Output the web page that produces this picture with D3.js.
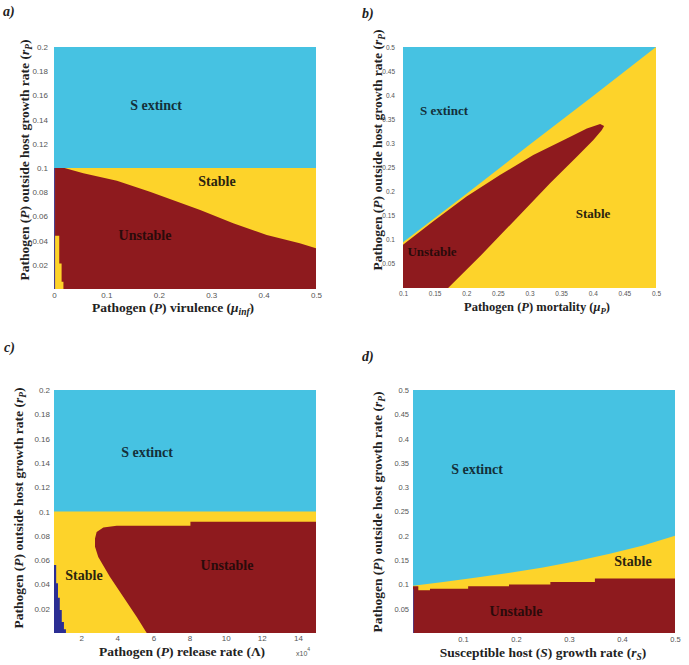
<!DOCTYPE html>
<html><head><meta charset="utf-8">
<script src="https://cdn.jsdelivr.net/npm/d3@7"></script>
<style>body{margin:0;background:#fff}svg{display:block}
.serif{font-family:"Liberation Serif","Times New Roman","DejaVu Serif",serif;font-weight:bold}
.sans{font-family:"Liberation Sans",Arial,sans-serif}
</style>
</head><body><svg id="c" width="689" height="665"></svg>
<script>
// ---------- Panel a: virulence vs outside growth rate ----------
const aXTicks = [0, 0.1, 0.2, 0.3, 0.4, 0.5];
const aYTicks = [0.02, 0.04, 0.06, 0.08, 0.1, 0.12, 0.14, 0.16, 0.18, 0.2];
const aExtinctX = [0, 0.5];
const aExtinctY = [0.1, 0.1];
const aUnstableX = [0.002, 0.02, 0.056, 0.12, 0.183, 0.279, 0.342, 0.406, 0.469, 0.5];
const aUnstableTop = [0.1, 0.1, 0.0956, 0.0895, 0.0804, 0.0653, 0.0543, 0.0446, 0.0378, 0.0336];
const aStripX = [0.002, 0.010, 0.0145, 0.018];
const aStripTop = [0.044, 0.021, 0.006, 0.006];
const aLysisX = [0, 0.002];
const aLysisTop = [0.1, 0.1];

// ---------- Panel b: mortality ----------
const bXTicks = [0.1, 0.15, 0.2, 0.25, 0.3, 0.35, 0.4, 0.45, 0.5];
const bYTicks = [0.05, 0.1, 0.15, 0.2, 0.25, 0.3, 0.35, 0.4, 0.45, 0.5];
const bExtinctX = [0.1, 0.2, 0.3, 0.4, 0.5];
const bExtinctY = [0.095, 0.195, 0.297, 0.398, 0.5];
const bUnstableX = [0.1, 0.1, 0.1475, 0.2005, 0.2533, 0.306, 0.359, 0.3907, 0.4117, 0.418, 0.4144, 0.401, 0.3748, 0.3325, 0.2797, 0.2268, 0.1713];
const bUnstableY = [0, 0.0896, 0.1378, 0.1896, 0.2345, 0.2759, 0.3104, 0.3311, 0.34, 0.336, 0.3276, 0.307, 0.2723, 0.2173, 0.1449, 0.0724, 0];

// ---------- Panel c: release rate (x10^4) ----------
const cXTicks = [2, 4, 6, 8, 10, 12, 14];
const cYTicks = [0.02, 0.04, 0.06, 0.08, 0.1, 0.12, 0.14, 0.16, 0.18, 0.2];
const cExtinctX = [0.5, 15];
const cExtinctY = [0.1, 0.1];
const cUnstableX = [5.63, 5.08, 4.34, 3.6, 2.95, 2.77, 2.77, 2.86, 3.23, 3.97, 8.05, 8.05, 15, 15];
const cUnstableY = [0, 0.0132, 0.0297, 0.0461, 0.0626, 0.0709, 0.0778, 0.0832, 0.0869, 0.0882, 0.0882, 0.0915, 0.0915, 0];
const cLysisX = [0.5, 0.62, 0.72, 0.82, 0.93, 1.05, 1.16];
const cLysisTop = [0.056, 0.041, 0.029, 0.019, 0.009, 0.003, 0.003];

// ---------- Panel d: susceptible host growth rate ----------
const dXTicks = [0.1, 0.2, 0.3, 0.4, 0.5];
const dYTicks = [0.05, 0.1, 0.15, 0.2, 0.25, 0.3, 0.35, 0.4, 0.45, 0.5];
const dExtinctX = [0.006, 0.063, 0.126, 0.189, 0.251, 0.315, 0.377, 0.44, 0.5];
const dExtinctY = [0.097, 0.105, 0.114, 0.124, 0.135, 0.148, 0.163, 0.18, 0.2];
const dUnstableX = [0.006, 0.016, 0.038, 0.11, 0.187, 0.265, 0.349, 0.5];
const dUnstableTop = [0.096, 0.088, 0.091, 0.096, 0.1, 0.105, 0.112, 0.112];
const dLysisX = [0.006, 0.0075];
const dLysisTop = [0.09, 0.09];

const C = {blue:"#46C2E2", yellow:"#FDD32A", red:"#8E1A1E", navy:"#2B2E93", purple:"#4B3F8E"};
const svg = d3.select("#c");
const zip = (xs, ys) => xs.map((x, i) => [x, ys[i]]);
const fmt = d => String(+d.toFixed(3));

function addParts(t, parts, fs) {
  parts.forEach(pt => {
    const s = t.append("tspan").text(pt[0]);
    if (pt[1] === "i") s.attr("font-style", "italic");
    if (pt[1] === "sub") s.attr("font-style", "italic").attr("font-size", fs * 0.7).attr("dy", 3);
    if (pt[1] === "after") s.attr("dy", -3);
  });
}

function panel(o) {
  const g = svg.append("g");
  const x = d3.scaleLinear().domain(o.xd).range([o.L, o.R]);
  const y = d3.scaleLinear().domain(o.yd).range([o.B, o.T]);
  const clipId = "clip" + o.id;
  g.append("clipPath").attr("id", clipId).append("rect")
    .attr("x", o.L).attr("y", o.T).attr("width", o.R - o.L).attr("height", o.B - o.T);
  const p = g.append("g").attr("clip-path", `url(#${clipId})`);
  p.append("rect").attr("x", o.L).attr("y", o.T).attr("width", o.R - o.L).attr("height", o.B - o.T).attr("fill", o.bg);
  o.layers.forEach(l => {
    if (l.type === "below") {
      const ar = d3.area().x(d => x(d[0])).y0(y(o.yd[0])).y1(d => y(d[1])).curve(l.curve || d3.curveLinear);
      p.append("path").datum(l.pts).attr("d", ar).attr("fill", l.fill);
    } else if (l.type === "above") {
      const ar = d3.area().x(d => x(d[0])).y0(y(o.yd[1])).y1(d => y(d[1])).curve(l.curve || d3.curveLinear);
      p.append("path").datum(l.pts).attr("d", ar).attr("fill", l.fill);
    } else {
      const ln = d3.line().x(d => x(d[0])).y(d => y(d[1]));
      p.append("path").datum(l.pts).attr("d", ln(l.pts) + "Z").attr("fill", l.fill);
    }
  });
  const ax = g.append("g").attr("transform", `translate(0,${o.B})`)
    .call(d3.axisBottom(x).tickValues(o.xt).tickFormat(fmt).tickSize(0).tickPadding(o.xpad));
  const ay = g.append("g").attr("transform", `translate(${o.L},0)`)
    .call(d3.axisLeft(y).tickValues(o.yt).tickFormat(fmt).tickSize(0).tickPadding(o.ypad));
  [ax, ay].forEach(a => {
    a.select(".domain").remove();
    a.attr("font-family", null);
    a.selectAll("text").attr("class", "sans").attr("font-size", o.tfs).attr("fill", "#555");
  });
  o.labels.forEach(t => {
    g.append("text").attr("class", "serif").attr("x", t[1]).attr("y", t[2]).attr("text-anchor", "middle")
      .attr("dominant-baseline", "middle")
      .attr("font-size", o.lfs).attr("fill", t[3]).text(t[0]);
  });
  g.append("text").attr("class", "serif").attr("x", o.letter[1]).attr("y", o.letter[2])
    .attr("font-style", "italic").attr("font-size", 14).attr("fill", "#222").text(o.letter[0]);
  const xt = g.append("text").attr("class", "serif").attr("x", o.xtitle.x).attr("y", o.xtitle.y)
    .attr("text-anchor", "middle").attr("font-size", o.xtitle.fs).attr("fill", "#222");
  addParts(xt, o.xtitle.parts, o.xtitle.fs);
  const yt = g.append("text").attr("class", "serif")
    .attr("transform", `translate(${o.ytitle.x},${o.ytitle.y}) rotate(-90)`)
    .attr("text-anchor", "middle").attr("font-size", o.ytitle.fs).attr("fill", "#222");
  addParts(yt, [["Pathogen ("], ["P", "i"], [") outside host growth rate ("], ["r", "i"], ["P", "sub"], [")", "after"]], o.ytitle.fs);
  return {g, x, y};
}

const dark = "#14303a", darkR = "#2a0b0b", darkY = "#2a2410";

panel({id: "a", L: 54, R: 316, T: 47, B: 289, xd: [0, 0.5], yd: [0, 0.2], bg: C.blue,
  xt: aXTicks, yt: aYTicks, xpad: 3, ypad: 6, tfs: 8, lfs: 14,
  layers: [
    {type: "below", pts: zip(aExtinctX, aExtinctY), fill: C.yellow},
    {type: "below", pts: zip(aUnstableX, aUnstableTop), fill: C.red},
    {type: "below", pts: zip(aStripX, aStripTop), fill: C.yellow, curve: d3.curveStepAfter},
    {type: "below", pts: zip(aLysisX, aLysisTop), fill: C.purple}
  ],
  labels: [["S extinct", 156, 107, dark], ["Stable", 217, 183, darkY], ["Unstable", 145, 237, darkR]],
  letter: ["a)", 3, 16],
  xtitle: {x: 173, y: 312, fs: 13.5, parts: [["Pathogen ("], ["P", "i"], [") virulence ("], ["μ", "i"], ["inf", "sub"], [")", "after"]]},
  ytitle: {x: 29, y: 160, fs: 13.5}
});

panel({id: "b", L: 403, R: 656, T: 47, B: 288, xd: [0.1, 0.5], yd: [0, 0.5], bg: C.yellow,
  xt: bXTicks, yt: bYTicks, xpad: 3, ypad: 8, tfs: 6.5, lfs: 13,
  layers: [
    {type: "above", pts: zip(bExtinctX, bExtinctY), fill: C.blue},
    {type: "poly", pts: zip(bUnstableX, bUnstableY), fill: C.red}
  ],
  labels: [["S extinct", 444, 112, dark], ["Stable", 593, 215, darkY], ["Unstable", 432, 253, darkR]],
  letter: ["b)", 362, 18],
  xtitle: {x: 537, y: 311, fs: 12.5, parts: [["Pathogen ("], ["P", "i"], [") mortality ("], ["μ", "i"], ["P", "sub"], [")", "after"]]},
  ytitle: {x: 382, y: 150, fs: 13.5}
});

const pc = panel({id: "c", L: 54, R: 316, T: 390, B: 633, xd: [0.5, 15], yd: [0, 0.2], bg: C.blue,
  xt: cXTicks, yt: cYTicks, xpad: 2, ypad: 4, tfs: 8, lfs: 14,
  layers: [
    {type: "below", pts: zip(cExtinctX, cExtinctY), fill: C.yellow},
    {type: "poly", pts: zip(cUnstableX, cUnstableY), fill: C.red},
    {type: "below", pts: zip(cLysisX, cLysisTop), fill: C.navy, curve: d3.curveStepAfter}
  ],
  labels: [["S extinct", 147, 454, dark], ["Stable", 84, 577, darkY], ["Unstable", 227, 567, darkR]],
  letter: ["c)", 4, 352],
  xtitle: {x: 182, y: 656, fs: 13.5, parts: [["Pathogen ("], ["P", "i"], [") release rate (Λ)"]]},
  ytitle: {x: 23, y: 508, fs: 13.5}
});
const mult = pc.g.append("text").attr("class", "sans").attr("x", 296).attr("y", 656)
  .attr("font-size", 7).attr("fill", "#555");
mult.append("tspan").text("x10");
mult.append("tspan").attr("dy", -5).attr("font-size", 5).text("4");

panel({id: "d", L: 413, R: 675, T: 390, B: 633, xd: [0.006, 0.5], yd: [0, 0.5], bg: C.blue,
  xt: dXTicks, yt: dYTicks, xpad: 4, ypad: 4, tfs: 7.5, lfs: 14,
  layers: [
    {type: "below", pts: zip(dExtinctX, dExtinctY), fill: C.yellow},
    {type: "below", pts: zip(dUnstableX, dUnstableTop), fill: C.red, curve: d3.curveStepAfter},
    {type: "below", pts: zip(dLysisX, dLysisTop), fill: C.purple}
  ],
  labels: [["S extinct", 477, 471, dark], ["Stable", 633, 563, darkY], ["Unstable", 516, 613, darkR]],
  letter: ["d)", 362, 361],
  xtitle: {x: 543, y: 657, fs: 13.5, parts: [["Susceptible host ("], ["S", "i"], [") growth rate ("], ["r", "i"], ["S", "sub"], [")", "after"]]},
  ytitle: {x: 382, y: 512, fs: 13.5}
});
</script></body></html>
